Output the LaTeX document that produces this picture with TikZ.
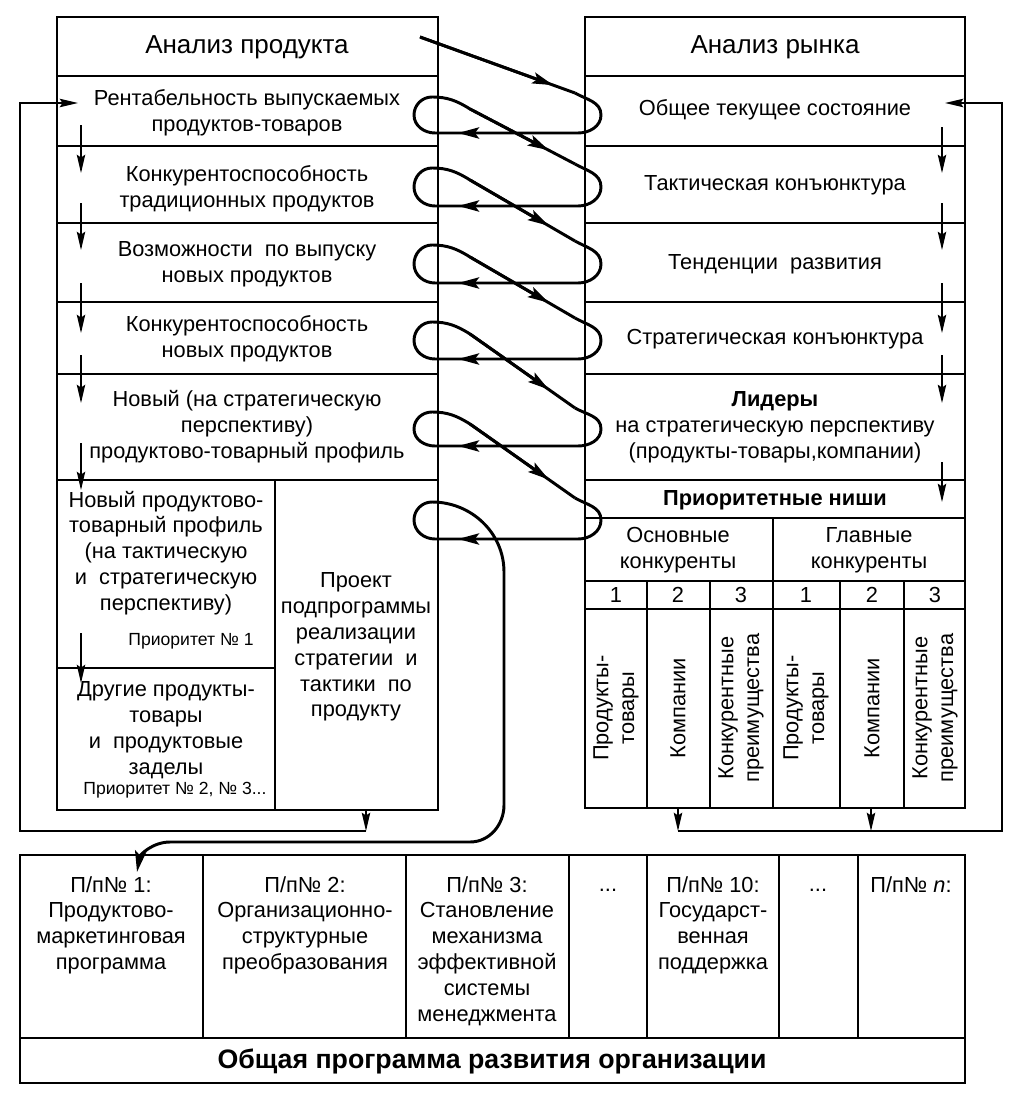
\documentclass[tikz,border=0pt]{standalone}
\usepackage{fontspec}
\setmainfont{Liberation Sans}
\usetikzlibrary{arrows.meta,calc}

\begin{document}
\begin{tikzpicture}[
    x=0.025cm, y=-0.025cm,
    font=\fontsize{15.5}{18.4}\selectfont,
    frame/.style={line width=1.3pt},
    cell/.style={align=center, inner sep=0pt},
    small/.style={font=\fontsize{12.5}{15}\selectfont},
    big/.style={font=\fontsize{18.5}{21}\selectfont},
    flow/.style={line width=0.8pt, -{Stealth[length=13pt,width=6pt,inset=2pt]}},
    back/.style={line width=1.3pt, -{Stealth[length=13pt,width=6pt,inset=2pt]}},
    curve/.style={line width=2.1pt, line join=round},
    curvetip/.style={curve, -{Stealth[length=15pt,width=8pt,inset=3pt]}}
  ]
  \useasboundingbox (0,0) rectangle (1016,1104);

  % Анализ продукта
  \draw[frame] (57,17) rectangle (438,810);
  \foreach \y in {76,146,223,302,374,480}
    \draw[frame] (57,\y) -- (438,\y);
  \draw[frame] (275,480) -- (275,810);
  \draw[frame] (57,668) -- (275,668);

  \node[cell, big] (prod) at (247,47) {Анализ продукта};
  \node[cell] (rent) at (247,113) {Рентабельность выпускаемых\\продуктов-товаров};
  \node[cell] (konk1) at (247,189) {Конкурентоспособность\\традиционных продуктов};
  \node[cell] (vozm) at (247,264) {Возможности\ \ по выпуску\\новых продуктов};
  \node[cell] (konk2) at (247,339) {Конкурентоспособность\\новых продуктов};
  \node[cell] (novyj) at (247,427) {Новый (на стратегическую\\перспективу)\\продуктово-товарный профиль};
  \node[cell] (profil) at (166,553) {Новый продуктово-\\товарный профиль\\(на тактическую\\и\ \ стратегическую\\перспективу)};
  \node[cell, small] (prio1) at (191,641) {Приоритет № 1};
  \node[cell] (drugie) at (166,730) {Другие продукты-\\товары\\и\ \ продуктовые\\заделы};
  \node[cell, small] (prio2) at (175,790) {Приоритет № 2, № 3...};
  \node[cell] (proekt) at (356,647) {Проект\\подпрограммы\\реализации\\стратегии\ \ и\\тактики\ \ по\\продукту};

  % Анализ рынка
  \draw[frame] (585,17) rectangle (965,808);
  \foreach \y in {76,146,223,302,374,480,518,581,609}
    \draw[frame] (585,\y) -- (965,\y);
  \draw[frame] (773,518) -- (773,808);
  \foreach \x in {647,710,840,904}
    \draw[frame] (\x,581) -- (\x,808);

  \node[cell, big] (rynok) at (775,47) {Анализ рынка};
  \node[cell] (obsh) at (775,110) {Общее текущее состояние};
  \node[cell] (takt) at (775,185) {Тактическая конъюнктура};
  \node[cell] (tend) at (775,264) {Тенденции\ \ развития};
  \node[cell] (strat) at (775,339) {Стратегическая конъюнктура};
  \node[cell] (lidery) at (775,427) {\textbf{Лидеры}\\на стратегическую перспективу\\(продукты-товары,компании)};
  \node[cell] (nishi) at (775,500) {\textbf{Приоритетные ниши}};
  \node[cell] (osn) at (678,550) {Основные\\конкуренты};
  \node[cell] (glav) at (869,550) {Главные\\конкуренты};
  \foreach \x/\n [count=\i] in {616/1,678/2,741/3,806/1,872/2,935/3}
    \node[cell] (num\i) at (\x,595) {\n};
  \foreach \x/\t [count=\i] in {616/{Продукты-\\товары},678/{Компании},741/{Конкурентные\\преимущества},806/{Продукты-\\товары},872/{Компании},935/{Конкурентные\\преимущества}}
    \node[cell, rotate=90] (vert\i) at (\x,708) {\t};

  % Общая программа
  \draw[frame] (20,855) rectangle (965,1083);
  \draw[frame] (20,1038) -- (965,1038);
  \foreach \x in {203,406,569,647,779,858}
    \draw[frame] (\x,855) -- (\x,1038);
  \foreach \x/\t [count=\i] in {111/{П/п№ 1:\\Продуктово-\\маркетинговая\\программа},305/{П/п№ 2:\\Организационно-\\структурные\\преобразования},487/{П/п№ 3:\\Становление\\механизма\\эффективной\\системы\\менеджмента},608/{\vphantom{П}...},713/{П/п№ 10:\\Государст-\\венная\\поддержка},818/{\vphantom{П}...},911/{П/п№ \textit{n}:}}
    \node[cell, anchor=north] (pp\i) at (\x,876) {\t};
  \node[cell, font=\fontsize{19}{22}\selectfont\bfseries] (obshaya) at (492,1061) {Общая программа развития организации};

  % стрелки внутри блоков
  \foreach \a/\b in {125/173,203/250,283/333,355/403,443/490,633/683}
    \draw[flow] (81,\a) -- (81,\b);
  \foreach \a/\b in {127/173,203/250,283/333,355/403,462/502}
    \draw[flow] (942,\a) -- (942,\b);

  % обратные связи
  \draw[back] (366,810) -- (366,831);
  \draw[back] (366,831) -- (20,831) -- (20,103) -- (78,103);
  \draw[back] (678,808) -- (678,831);
  \draw[back] (871,808) -- (871,831);
  \draw[back] (678,831) -- (1002,831) -- (1002,103) -- (945,103);

  % спираль
  \coordinate (start) at (420,37);
  \coordinate (in1) at (575,93);
  \draw[curve] (start) -- (in1);
  \draw[curvetip] (start) -- ($(start)!0.86!(in1)$);
  \foreach \t/\b/\n in {97/133/168,168/206/245,245/283/322,322/359/412,412/446/502} {
    \draw[curve] (575,\t-4) to[out=-30,in=90] (601,{(\t+\b)/2}) to[out=-90,in=0] (578,\b)
      -- (435,\b) to[out=180,in=-90] (414,{(\t+\b)/2}) to[out=90,in=180] (432,\t)
      to[out=0,in=148] (470,\t+12) -- (575,\n-4);
    \draw[curvetip] (578,\b) -- (458,\b);
    \draw[curvetip] (470,\t+12) -- ($(470,\t+12)!0.75!(575,\n-4)$);
  }
  \draw[curve] (575,498) to[out=-30,in=90] (601,520) to[out=-90,in=0] (578,539)
    -- (435,539) to[out=180,in=-90] (414,520) to[out=90,in=180] (432,502)
    to[out=0,in=90] (504,572) -- (504,805) to[out=-90,in=0] (470,842) -- (170,842);
  \draw[curvetip] (578,539) -- (458,539);
  \draw[curvetip] (170,842) to[out=180,in=80] (137,872);
\end{tikzpicture}
\end{document}
